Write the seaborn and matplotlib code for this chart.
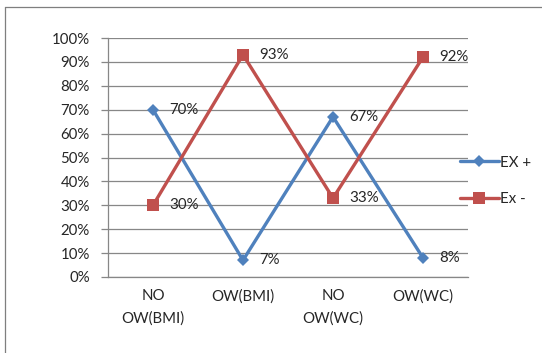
import matplotlib
matplotlib.use("Agg")
import matplotlib.pyplot as plt
from matplotlib.lines import Line2D
from matplotlib.ticker import FixedLocator, NullFormatter, PercentFormatter
import seaborn as sns
import pandas as pd

categories = ["NO\nOW(BMI)", "OW(BMI)", "NO\nOW(WC)", "OW(WC)"]
ex_plus = [70, 7, 67, 8]
ex_minus = [30, 93, 33, 92]
series_names = ["EX +", "Ex -"]
y_ticks = list(range(0, 101, 10))

blue = "#4F81BD"
red = "#C0504D"
grid_gray = "#878787"
text_color = "#262626"
font_size = 10.8

sns.set_theme(style="white")
plt.rcParams["font.family"] = ["Lato", "DejaVu Sans"]

rows = []
for i, cat in enumerate(categories):
    rows.append({"pos": i, "value": ex_plus[i], "series": series_names[0]})
    rows.append({"pos": i, "value": ex_minus[i], "series": series_names[1]})
df = pd.DataFrame(rows)

fig = plt.figure(figsize=(5.42, 3.53), dpi=100)
ax = fig.add_axes([108 / 542, 1 - 277 / 353, 360 / 542, 239 / 353])

sns.lineplot(
    data=df, x="pos", y="value", hue="series", style="series",
    palette={series_names[0]: blue, series_names[1]: red},
    markers={series_names[0]: "D", series_names[1]: "s"},
    dashes=False, linewidth=2.4, markersize=7, markeredgewidth=0,
    ax=ax, legend=False, zorder=3,
)
# square markers a bit larger than the diamonds
for line in ax.get_lines():
    if line.get_marker() == "s":
        line.set_markersize(8.5)
    else:
        line.set_markersize(6.5)

# value labels right of each point
for vals in (ex_plus, ex_minus):
    for i, v in enumerate(vals):
        ax.annotate(f"{v}%", (i, v), xytext=(12, 0), textcoords="offset points",
                    ha="left", va="center", fontsize=font_size, color=text_color)

ax.set_xlim(-0.5, len(categories) - 0.5)
ax.set_ylim(0, 100)
ax.set_xlabel("")
ax.set_ylabel("")

ax.set_yticks(y_ticks)
ax.yaxis.set_major_formatter(PercentFormatter(decimals=0))
ax.yaxis.grid(True, color=grid_gray, linewidth=0.9)
ax.set_axisbelow(True)

# category boundaries carry tick marks, centres carry labels
ax.xaxis.set_major_locator(FixedLocator([i - 0.5 for i in range(len(categories) + 1)]))
ax.xaxis.set_major_formatter(NullFormatter())
ax.xaxis.set_minor_locator(FixedLocator(list(range(len(categories)))))
ax.set_xticklabels(categories, minor=True)
ax.tick_params(axis="x", which="major", length=5, width=0.9, color=grid_gray, direction="out")
ax.tick_params(axis="x", which="minor", length=0, pad=9, labelsize=font_size, labelcolor=text_color)
ax.tick_params(axis="y", length=5, width=0.9, color=grid_gray, direction="out",
               pad=8, labelsize=font_size, labelcolor=text_color, left=True)
for lbl in ax.get_xticklabels(minor=True):
    lbl.set_linespacing(1.7)

for side in ("top", "right"):
    ax.spines[side].set_visible(False)
for side in ("left", "bottom"):
    ax.spines[side].set_color(grid_gray)
    ax.spines[side].set_linewidth(0.9)

handles = [
    Line2D([0], [0], color=blue, lw=2.4, marker="D", markersize=6.5, markeredgewidth=0),
    Line2D([0], [0], color=red, lw=2.4, marker="s", markersize=8.5, markeredgewidth=0),
]
fig.legend(handles, series_names, loc="center left", bbox_to_anchor=(446 / 542, 1 - 181 / 353),
           frameon=False, fontsize=font_size, handlelength=2.6, handletextpad=0.1,
           labelspacing=1.5, labelcolor=text_color)

# chart area border
fig.add_artist(Line2D([5 / 542, 5 / 542], [0, 1 - 7 / 353], transform=fig.transFigure,
                      color="#7F7F7F", lw=0.9))
fig.add_artist(Line2D([5 / 542, 1], [1 - 7 / 353, 1 - 7 / 353], transform=fig.transFigure,
                      color="#7F7F7F", lw=0.9))

fig.savefig("out.png", dpi=100)
